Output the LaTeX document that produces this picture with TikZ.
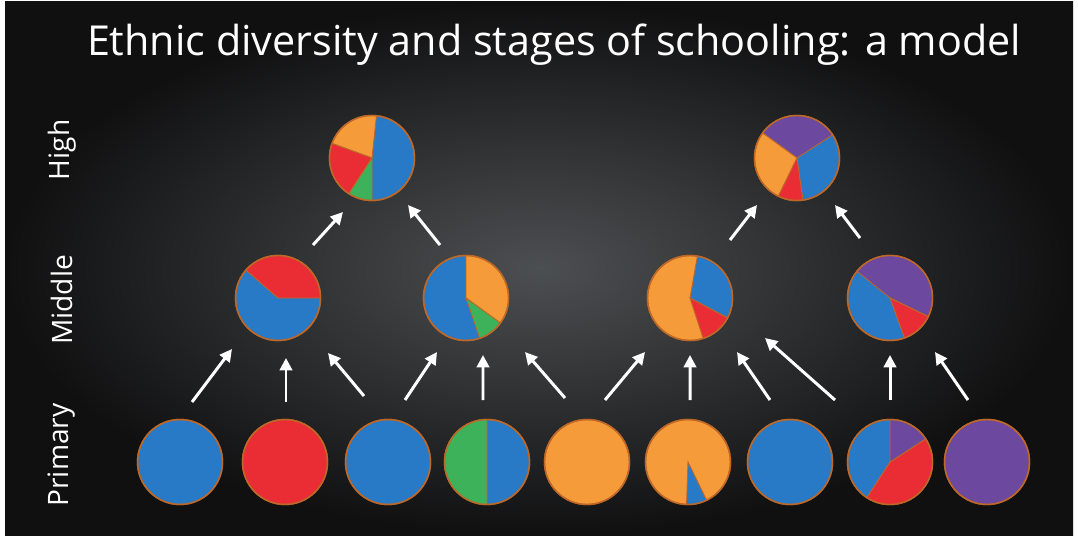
\documentclass[tikz,border=0pt]{standalone}
\usepackage{fontspec}
\setmainfont{Open Sans}
\definecolor{pieblue}{RGB}{40,122,198}
\definecolor{piered}{RGB}{234,45,52}
\definecolor{pieorange}{RGB}{245,155,58}
\definecolor{piegreen}{RGB}{62,178,90}
\definecolor{piepurple}{RGB}{108,72,158}
\definecolor{pieedge}{RGB}{190,104,40}
\definecolor{bgmid}{RGB}{76,79,81}
\definecolor{bgout}{RGB}{16,16,17}
\usetikzlibrary{arrows.meta}

% one wedge of a pie node: node, start angle, end angle, colour
\newcommand{\pieslice}[4]{%
  \filldraw[fill=#4, draw=pieedge, line width=0.5pt]
    (#1.center) -- ([shift={(#2:0.85)}]#1.center)
    arc[start angle=#2, end angle=#3, radius=0.85] -- cycle;}

\begin{document}
\begin{tikzpicture}[
  pie/.style={circle, draw=pieedge, line width=0.8pt, minimum size=1.7cm,
              inner sep=0pt, outer sep=0pt},
  arr/.style={-{Triangle[length=7pt,width=7pt]}, white, line width=1.7pt},
  lvl/.style={white, rotate=90, font=\fontsize{16}{18}\selectfont},
]

% background
\fill[white] (0,0) rectangle (21.56,10.76);
\fill[bgout] (0.1,0.06) rectangle (21.46,10.72);
\shade[inner color=bgmid, outer color=bgout] (0.1,0.06) rectangle (21.46,10.72);

% title
\node[white, font=\fontsize{23.5}{27}\selectfont] (title) at (11.08,9.86)
      {Ethnic diversity and stages of schooling: a model};

% Level labels on the side
\node[lvl] (lhigh) at (1.24,7.76) {High};
\node[lvl] (lmid)  at (1.24,4.76) {Middle};
\node[lvl] (lprim) at (1.24,1.66) {Primary};

% Level 1: primary schools
\node[pie, fill=pieblue]   (p1) at (3.60,1.52) {};
\node[pie, fill=piered]    (p2) at (5.70,1.52) {};
\node[pie, fill=pieblue]   (p3) at (7.76,1.52) {};
\node[pie, fill=pieblue]   (p4) at (9.74,1.52) {};
\node[pie, fill=pieorange] (p5) at (11.74,1.52) {};
\node[pie, fill=pieorange] (p6) at (13.76,1.52) {};
\node[pie, fill=pieblue]   (p7) at (15.80,1.52) {};
\node[pie, fill=pieblue]   (p8) at (17.80,1.52) {};
\node[pie, fill=piepurple] (p9) at (19.74,1.52) {};

\pieslice{p4}{90}{270}{piegreen}
\pieslice{p6}{-92}{-64}{pieblue}
\pieslice{p8}{-123}{33}{piered}
\pieslice{p8}{33}{90}{piepurple}

% Level 2: middle schools
\node[pie, fill=pieblue]   (m1) at (5.56,4.80) {};
\node[pie, fill=pieblue]   (m2) at (9.32,4.80) {};
\node[pie, fill=pieorange] (m3) at (13.80,4.80) {};
\node[pie, fill=pieblue]   (m4) at (17.80,4.80) {};

\pieslice{m1}{0}{139}{piered}
\pieslice{m2}{-36}{90}{pieorange}
\pieslice{m2}{-71}{-36}{piegreen}
\pieslice{m3}{-28}{80}{pieblue}
\pieslice{m3}{-72}{-28}{piered}
\pieslice{m4}{-26}{141}{piepurple}
\pieslice{m4}{-70}{-26}{piered}

% Level 3: high schools
\node[pie, fill=pieblue] (h1) at (7.44,7.60) {};
\node[pie, fill=pieblue] (h2) at (15.94,7.60) {};

\pieslice{h1}{84}{160}{pieorange}
\pieslice{h1}{160}{237}{piered}
\pieslice{h1}{237}{270}{piegreen}
\pieslice{h2}{33}{144}{piepurple}
\pieslice{h2}{144}{244}{pieorange}
\pieslice{h2}{244}{278}{piered}

% outlines on top of the wedges
\foreach \n in {p1,p2,p3,p4,p5,p6,p7,p8,p9,m1,m2,m3,m4,h1,h2}
  \draw[pieedge, line width=0.8pt] (\n.center) circle[radius=0.85];

% primary -> middle
\draw[arr] ([shift={(0.24,1.20)}]p1.center)  -- ([shift={(-0.92,-1.02)}]m1.center);
\draw[arr] ([shift={(0.02,1.20)}]p2.center)  -- ([shift={(0.16,-1.20)}]m1.center);
\draw[arr] ([shift={(-0.48,1.32)}]p3.center) -- ([shift={(1.00,-1.10)}]m1.center);
\draw[arr] ([shift={(0.34,1.24)}]p3.center)  -- ([shift={(-0.58,-1.08)}]m2.center);
\draw[arr] ([shift={(-0.08,1.24)}]p4.center) -- ([shift={(0.34,-1.14)}]m2.center);
\draw[arr] ([shift={(-0.44,1.28)}]p5.center) -- ([shift={(1.18,-1.08)}]m2.center);
\draw[arr] ([shift={(0.36,1.24)}]p5.center)  -- ([shift={(-0.90,-1.08)}]m3.center);
\draw[arr] ([shift={(0.04,1.24)}]p6.center)  -- ([shift={(0,-1.14)}]m3.center);
\draw[arr] ([shift={(-0.40,1.24)}]p7.center) -- ([shift={(0.94,-1.08)}]m3.center);
\draw[arr] ([shift={(-1.10,1.24)}]p8.center) -- ([shift={(1.50,-0.80)}]m3.center);
\draw[arr] ([shift={(0,1.24)}]p8.center)     -- ([shift={(0,-1.14)}]m4.center);
\draw[arr] ([shift={(-0.38,1.24)}]p9.center) -- ([shift={(0.90,-1.08)}]m4.center);

% middle -> high
\draw[arr] ([shift={(0.70,1.06)}]m1.center)  -- ([shift={(-0.58,-1.08)}]h1.center);
\draw[arr] ([shift={(-0.52,1.06)}]m2.center) -- ([shift={(0.72,-0.94)}]h1.center);
\draw[arr] ([shift={(0.80,1.16)}]m3.center)  -- ([shift={(-0.80,-0.94)}]h2.center);
\draw[arr] ([shift={(-0.60,1.20)}]m4.center) -- ([shift={(0.76,-0.94)}]h2.center);

\end{tikzpicture}
\end{document}
